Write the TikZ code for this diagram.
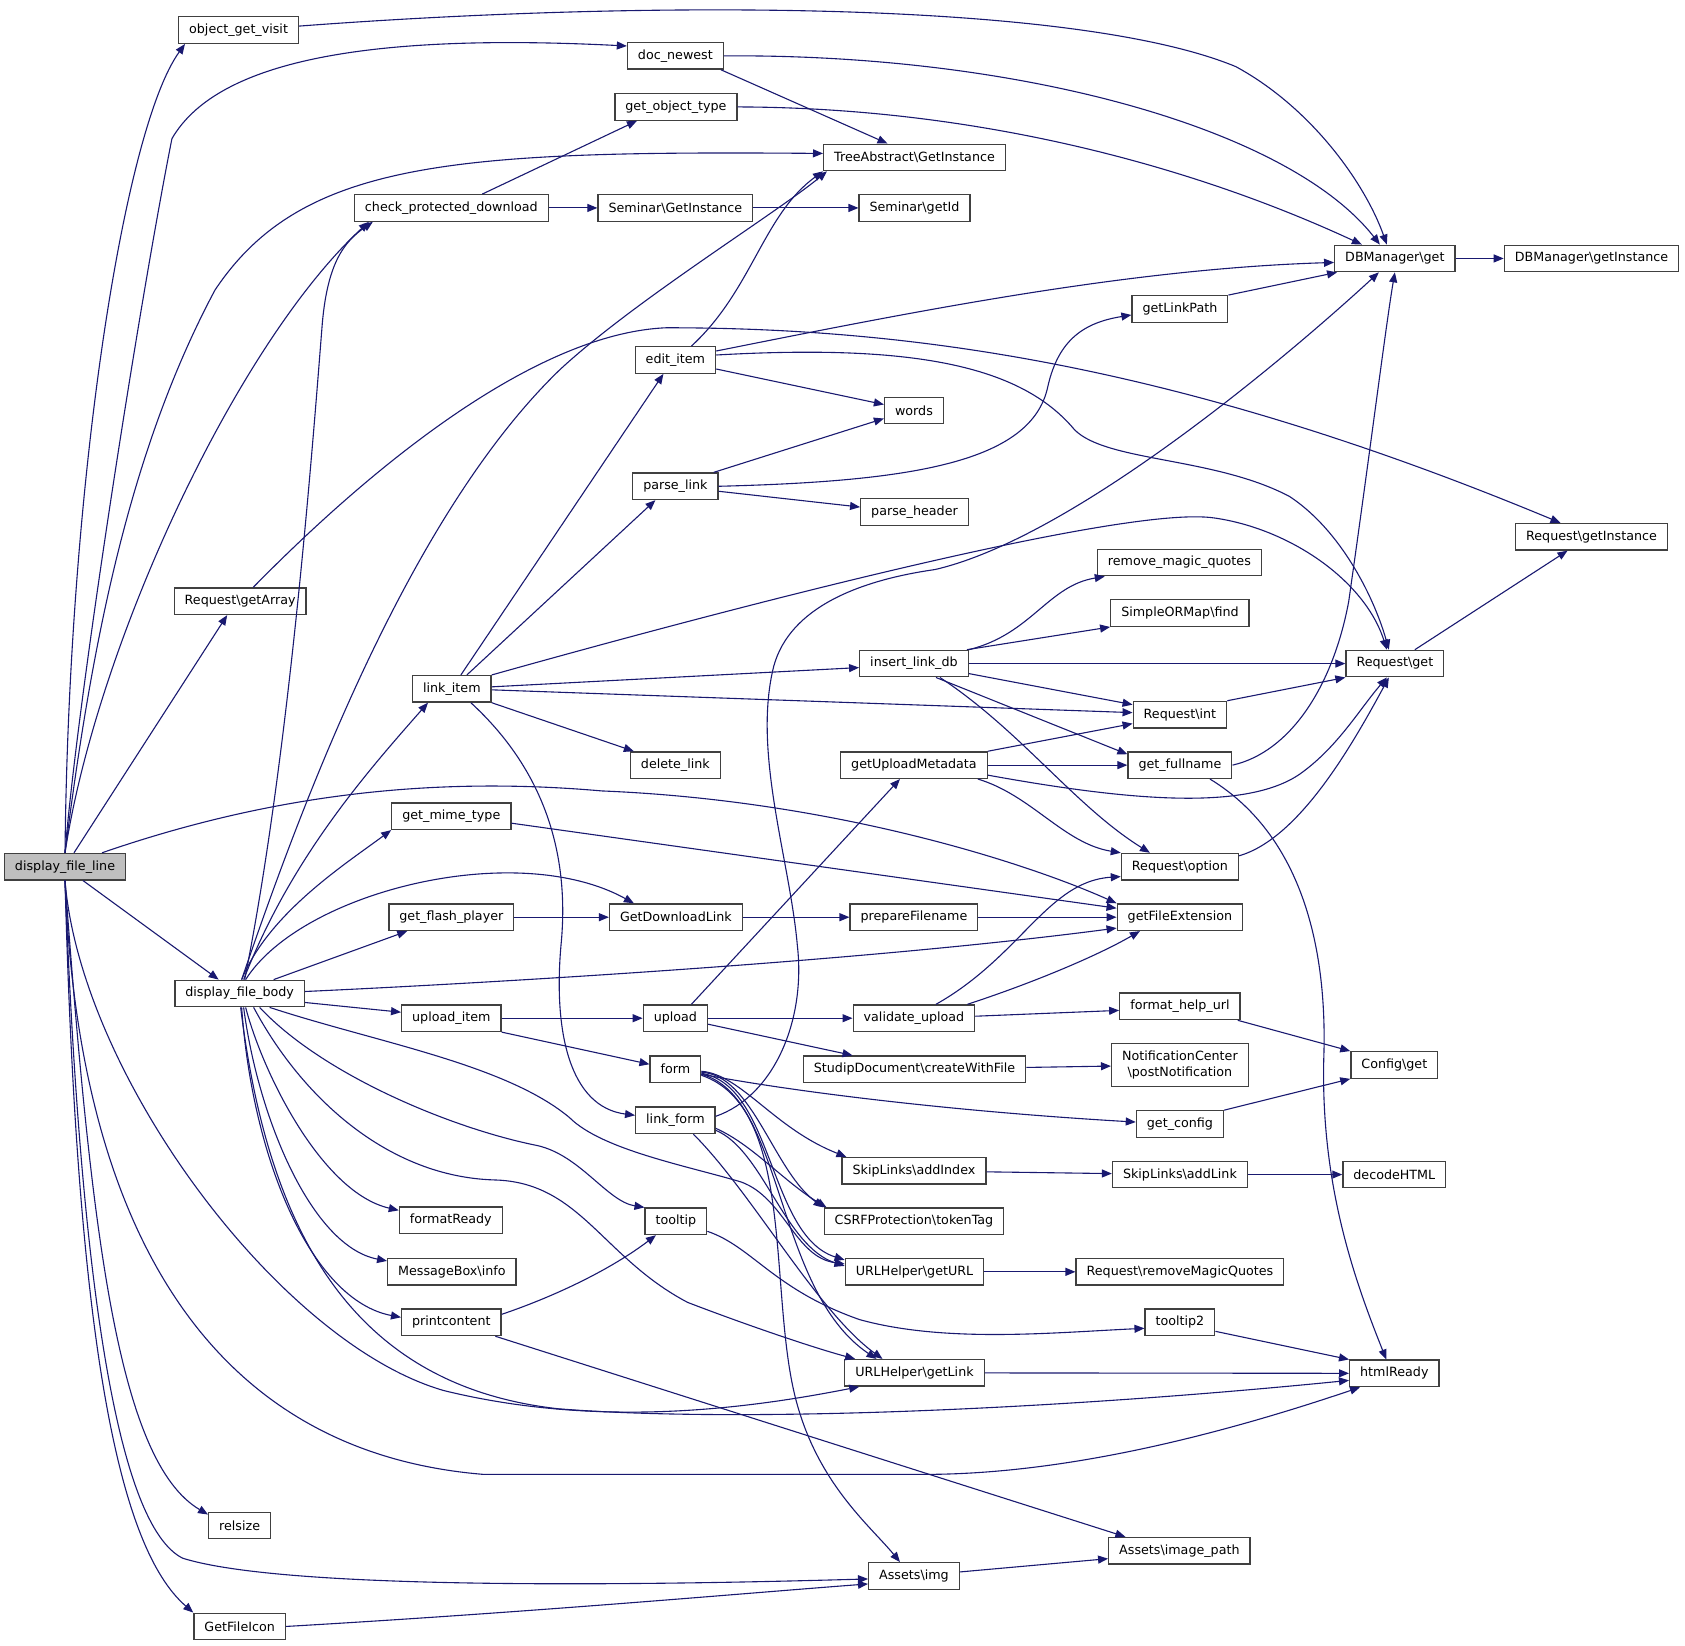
\documentclass[tikz,border=0pt]{standalone}
\usepackage{fontspec}
\setmainfont{DejaVu Sans}
\usetikzlibrary{arrows.meta}
\definecolor{edgeblue}{HTML}{191970}
\definecolor{boxgray}{HTML}{404040}
\definecolor{rootgray}{HTML}{BFBFBF}
\newcommand{\bsl}{\textbackslash}
\begin{document}
\begin{tikzpicture}[x=1.0746pt,y=-1.0746pt,
    link/.style={draw=edgeblue,line width=1.1pt,-{Triangle[length=10pt,width=8pt]}},
    fn/.style={rectangle,draw=boxgray,line width=1.3pt,fill=white,minimum height=26.5pt,
      inner xsep=10.5pt,inner ysep=1pt,font=\fontsize{12.7}{15.5}\selectfont}]
  \fill[white] (0,0) rectangle (1568,1531);
  \useasboundingbox (0,0) rectangle (1568,1531);
  \begin{scope}[every node/.style={fn}]
    \node (ogv) at (222,28) {object\_get\_visit};
    \node (dnew) at (628.5,52) {doc\_newest};
    \node (got) at (629,99.5) {get\_object\_type};
    \node (tai) at (851,146.5) {TreeAbstract\bsl GetInstance};
    \node (cpd) at (420,193.5) {check\_protected\_download};
    \node (sgi) at (628.5,193.5) {Seminar\bsl GetInstance};
    \node (sid) at (851,193.5) {Seminar\bsl getId};
    \node (dbg) at (1298,240.5) {DBManager\bsl get};
    \node (dbi) at (1481,240.5) {DBManager\bsl getInstance};
    \node (glp) at (1098,287.5) {getLinkPath};
    \node (edit) at (628.5,335) {edit\_item};
    \node (words) at (850.5,382) {words};
    \node (plink) at (628.5,452.5) {parse\_link};
    \node (phead) at (851,476.5) {parse\_header};
    \node (rgi) at (1481,499.5) {Request\bsl getInstance};
    \node (rmq) at (1097.5,523.5) {remove\_magic\_quotes};
    \node (somf) at (1098,570.5) {SimpleORMap\bsl find};
    \node (rga) at (223.5,559.5) {Request\bsl getArray};
    \node (ildb) at (850.5,617.5) {insert\_link\_db};
    \node (rget) at (1298,617.5) {Request\bsl get};
    \node (litem) at (420.5,641) {link\_item};
    \node (rint) at (1098,665) {Request\bsl int};
    \node (dlink) at (628.5,712) {delete\_link};
    \node (gum) at (850.5,712) {getUploadMetadata};
    \node (gfn) at (1098,712) {get\_fullname};
    \node (gmt) at (420,759.5) {get\_mime\_type};
    \node[fill=rootgray] (dfl) at (60.5,806.5) {display\_file\_line};
    \node (ropt) at (1098,806.5) {Request\bsl option};
    \node (gfp) at (420,853.5) {get\_flash\_player};
    \node (gdl) at (629,853.5) {GetDownloadLink};
    \node (pfn) at (850.5,853.5) {prepareFilename};
    \node (gfe) at (1098,853.5) {getFileExtension};
    \node (dfb) at (223,924.5) {display\_file\_body};
    \node (uitem) at (420,947.5) {upload\_item};
    \node (upl) at (628.5,947.5) {upload};
    \node (vup) at (850.5,947.5) {validate\_upload};
    \node (fhu) at (1098,936.5) {format\_help\_url};
    \node (sdoc) at (851,995) {StudipDocument\bsl createWithFile};
    \node[align=center,minimum height=43pt,font=\fontsize{12.7}{16}\selectfont] (ncpn) at (1098,991) {NotificationCenter\\\bsl postNotification};
    \node (cfg) at (1297.5,991) {Config\bsl get};
    \node (form) at (628.5,995) {form};
    \node (lform) at (628.5,1042.5) {link\_form};
    \node (gcfg) at (1098,1046) {get\_config};
    \node (sidx) at (850.5,1089.5) {SkipLinks\bsl addIndex};
    \node (slnk) at (1098,1093) {SkipLinks\bsl addLink};
    \node (dhtml) at (1297.5,1093) {decodeHTML};
    \node (fready) at (419.5,1135.5) {formatReady};
    \node (ttip) at (629,1136.5) {tooltip};
    \node (csrf) at (850.5,1136.5) {CSRFProtection\bsl tokenTag};
    \node (mbi) at (420.5,1183.5) {MessageBox\bsl info};
    \node (gurl) at (851,1183.5) {URLHelper\bsl getURL};
    \node (rrmq) at (1098,1183.5) {Request\bsl removeMagicQuotes};
    \node (pcont) at (420,1230.5) {printcontent};
    \node (ttip2) at (1098,1230.5) {tooltip2};
    \node (glink) at (851,1277.5) {URLHelper\bsl getLink};
    \node (hready) at (1297.5,1278) {htmlReady};
    \node (rsz) at (223,1419.5) {relsize};
    \node (aip) at (1097.5,1443) {Assets\bsl image\_path};
    \node (aimg) at (850.5,1466.5) {Assets\bsl img};
    \node (gfi) at (223,1513.5) {GetFileIcon};
  \end{scope}
  \begin{scope}[every edge/.style={link}]
    \draw[link] (dfl.north) .. controls (64,450) and (115,120) .. ([xshift=7pt]ogv.south west);
    \draw[link] (dfl.north) .. controls (72,650) and (130,280) .. (160,129) .. controls (200,60) and (330,30) .. ([yshift=-4pt]dnew.north west);
    \draw[link] (dfl.north) .. controls (85,600) and (120,420) .. (200,270) .. controls (280,150) and (420,140) .. ([yshift=4pt]tai.west);
    \draw[link] (dfl.north) .. controls (90,600) and (220,320) .. ([xshift=15pt]cpd.south west);
    \path ([xshift=9pt]dfl.north) edge ([xshift=-13pt]rga.south);
    \draw[link] ([xshift=37pt]dfl.north) .. controls (250,740) and (400,722) .. (560,736) .. controls (780,745) and (960,805) .. (gfe.north west);
    \path ([xshift=18pt]dfl.south) edge ([xshift=-21pt]dfb.north);
    \draw[link] (dfl.south) .. controls (75,1000) and (260,1250) .. (413,1294) .. controls (560,1330) and (700,1310) .. ([xshift=15pt]glink.south west);
    \draw[link] (dfl.south) .. controls (72,1120) and (180,1350) .. (450,1372) -- (860,1372) .. controls (1000,1372) and (1150,1330) .. ([xshift=11pt]hready.south west);
    \draw[link] (dfl.south) .. controls (85,1150) and (110,1360) .. ([yshift=-3pt]rsz.north west);
    \draw[link] (dfl.south) .. controls (75,1200) and (110,1420) .. (170,1450) .. controls (250,1475) and (500,1478) .. ([yshift=-3pt]aimg.west);
    \draw[link] (dfl.south) .. controls (72,1250) and (110,1440) .. (gfi.north west);
    \draw[link] ([xshift=5pt]dfb.north) .. controls (270,700) and (292,400) .. (300,300) .. controls (305,245) and (320,225) .. ([xshift=19pt]cpd.south west);
    \draw[link] ([xshift=2pt]dfb.north) .. controls (280,750) and (380,480) .. (521,344) .. controls (590,280) and (720,200) .. ([xshift=4pt]tai.south west);
    \draw[link] ([xshift=4pt]dfb.north) .. controls (270,800) and (340,720) .. ([xshift=16pt]litem.south west);
    \draw[link] ([xshift=2pt]dfb.north) .. controls (250,850) and (320,805) .. (gmt.south west);
    \draw[link] ([xshift=6pt]dfb.north) .. controls (280,830) and (480,780) .. ([xshift=25pt]gdl.north west);
    \path ([xshift=34pt]dfb.north) edge ([xshift=19pt]gfp.south west);
    \draw[link] ([yshift=2pt]dfb.east) .. controls (450,915) and (800,895) .. ([yshift=3pt]gfe.south west);
    \path ([yshift=-9pt]dfb.east) edge ([yshift=6pt]uitem.west);
    \draw[link] ([xshift=20pt]dfb.south) .. controls (300,1000) and (420,1050) .. (500,1066) .. controls (540,1075) and (565,1118) .. (ttip.north west);
    \draw[link] ([xshift=30pt]dfb.south) .. controls (350,970) and (470,990) .. (530,1040) .. controls (560,1070) and (640,1085) .. (690,1100) .. controls (730,1115) and (740,1170) .. ([yshift=-6pt]gurl.north west);
    \draw[link] ([xshift=14pt]dfb.south) .. controls (280,1020) and (360,1095) .. (460,1098) .. controls (540,1100) and (560,1170) .. (640,1212) .. controls (700,1235) and (760,1255) .. ([xshift=11pt]glink.north west);
    \draw[link] ([xshift=6pt]dfb.south) .. controls (245,1000) and (300,1110) .. ([yshift=-4pt]fready.north west);
    \draw[link] ([xshift=4pt]dfb.south) .. controls (240,1040) and (290,1160) .. ([yshift=-3pt]mbi.north west);
    \draw[link] ([xshift=2pt]dfb.south) .. controls (235,1080) and (290,1210) .. ([yshift=5pt]pcont.west);
    \draw[link] ([xshift=1pt]dfb.south) .. controls (250,1150) and (330,1290) .. (520,1311) .. controls (700,1325) and (1000,1310) .. ([yshift=-7pt]hready.west);
    \draw[link] ([yshift=4pt]ogv.east) .. controls (600,0) and (1000,0) .. (1150,62) .. controls (1220,100) and (1270,170) .. ([xshift=-8pt]dbg.north);
    \draw[link] (dnew.east) .. controls (950,50) and (1200,120) .. ([xshift=-15pt]dbg.north);
    \path ([xshift=-3pt]dnew.south east) edge ([xshift=-27pt]tai.north);
    \draw[link] (got.east) .. controls (900,100) and (1100,150) .. ([xshift=-33pt]dbg.north);
    \path ([xshift=31pt]cpd.north) edge ([xshift=-39pt]got.south);
    \path (cpd) edge (sgi);
    \path (sgi) edge (sid);
    \path (dbg) edge (dbi);
    \path (glp.north east) edge ([xshift=3pt]dbg.south west);
    \draw[link] ([xshift=16pt]edit.north) .. controls (700,270) and (710,200) .. (tai.south west);
    \draw[link] ([yshift=9pt]edit.east) .. controls (850,290) and (1050,250) .. ([yshift=-4pt]dbg.west);
    \path ([yshift=-9pt]edit.east) edge ([yshift=6pt]words.west);
    \draw[link] ([yshift=5pt]edit.east) .. controls (850,320) and (950,340) .. (1000,400) .. controls (1030,430) and (1130,425) .. (1200,462) .. controls (1250,495) and (1280,560) .. ([xshift=-6pt]rget.north);
    \path ([xshift=-5pt]plink.north east) edge ([yshift=-8pt]words.west);
    \draw[link] (plink.east) .. controls (850,448) and (960,430) .. (975,360) .. controls (985,315) and (1010,300) .. ([yshift=-6pt]glp.west);
    \path ([yshift=-5pt]plink.east) edge ([yshift=5pt]phead.west);
    \draw[link] ([xshift=13pt]rga.north) .. controls (350,430) and (500,310) .. (620,305) .. controls (850,305) and (1100,340) .. ([xshift=-31pt]rgi.north);
    \draw[link] (ildb.north east) .. controls (960,590) and (975,545) .. ([xshift=8pt]rmq.south west);
    \path ([xshift=-2pt]ildb.north east) edge (somf.south west);
    \path (ildb) edge (rget);
    \path ([yshift=-10pt]ildb.east) edge ([yshift=10pt]rint.west);
    \path ([xshift=22pt]ildb.south) edge ([yshift=-3pt]gfn.north west);
    \draw[link] ([xshift=26pt]ildb.south) .. controls (950,680) and (1000,750) .. ([xshift=-30pt]ropt.north);
    \path ([xshift=9pt]litem.north) edge ([xshift=-12pt]edit.south);
    \path ([xshift=15pt]litem.north) edge ([xshift=-20pt]plink.south);
    \draw[link] (litem.north east) .. controls (700,560) and (1050,470) .. (1130,482) .. controls (1200,492) and (1270,540) .. ([xshift=-8pt]rget.north);
    \path ([yshift=2pt]litem.east) edge ([yshift=-4pt]ildb.west);
    \path ([yshift=-1pt]litem.east) edge ([yshift=2pt]rint.west);
    \path (litem.south east) edge ([xshift=4pt]dlink.north west);
    \draw[link] ([xshift=19pt]litem.south) .. controls (510,720) and (530,800) .. (522,880) .. controls (515,960) and (530,1030) .. ([yshift=5pt]lform.west);
    \path (rint.north east) edge (rget.south west);
    \path ([xshift=20pt]rget.north) edge ([xshift=-24pt]rgi.south);
    \path (gum.north east) edge ([yshift=-9pt]rint.west);
    \path (gum) edge (gfn);
    \draw[link] ([yshift=-10pt]gum.east) .. controls (1050,745) and (1160,755) .. (1210,720) .. controls (1245,695) and (1265,660) .. ([xshift=-8pt]rget.south);
    \draw[link] ([xshift=-10pt]gum.south east) .. controls (960,740) and (990,785) .. (ropt.north west);
    \draw[link] (gfn.east) .. controls (1200,700) and (1240,640) .. (1255,560) .. controls (1275,420) and (1290,300) .. (dbg.south);
    \draw[link] ([xshift=30pt]gfn.south) .. controls (1200,770) and (1235,860) .. (1232,980) .. controls (1228,1100) and (1260,1190) .. ([xshift=-8pt]hready.north);
    \path ([yshift=-7pt]gmt.east) edge ([yshift=9pt]gfe.west);
    \draw[link] ([yshift=-3pt]ropt.north east) .. controls (1210,780) and (1260,690) .. ([xshift=-6pt]rget.south);
    \path (gfp) edge (gdl);
    \path (gdl) edge (pfn);
    \path (pfn) edge (gfe);
    \path (uitem) edge (upl);
    \path (uitem.south east) edge ([yshift=5pt]form.west);
    \path ([xshift=16pt]upl.north) edge ([xshift=-14pt]gum.south);
    \path (upl) edge (vup);
    \path ([yshift=-6pt]upl.east) edge ([xshift=-62pt]sdoc.north);
    \draw[link] ([xshift=22pt]vup.north) .. controls (950,890) and (975,820) .. ([yshift=4pt]ropt.south west);
    \draw[link] ([xshift=-8pt]vup.north east) .. controls (960,915) and (1020,890) .. ([xshift=-40pt]gfe.south);
    \path ([yshift=2pt]vup.east) edge ([yshift=-4pt]fhu.west);
    \path ([xshift=-3pt]fhu.south east) edge (cfg.north west);
    \path (sdoc) edge (ncpn);
    \draw[link] ([yshift=-5pt]form.east) .. controls (750,1018) and (900,1035) .. ([yshift=2pt]gcfg.west);
    \draw[link] ([yshift=-2pt]form.east) .. controls (690,1000) and (720,1050) .. ([xshift=5pt]sidx.north west);
    \draw[link] ([yshift=-3pt]form.east) .. controls (700,1000) and (720,1090) .. (csrf.north west);
    \draw[link] ([yshift=-4pt]form.east) .. controls (720,1010) and (715,1150) .. ([yshift=-2pt]gurl.north west);
    \draw[link] ([yshift=-5pt]form.east) .. controls (730,1020) and (720,1200) .. ([xshift=-38pt]glink.north);
    \draw[link] ([yshift=-6pt]form.east) .. controls (740,1030) and (715,1200) .. (740,1300) .. controls (760,1380) and (810,1420) .. ([xshift=-14pt]aimg.north);
    \draw[link] ([yshift=4pt]lform.east) .. controls (720,1020) and (750,950) .. (742,880) .. controls (735,800) and (700,700) .. (720,620) .. controls (735,565) and (800,540) .. (870,530) .. controls (1000,500) and (1200,330) .. ([xshift=-16pt]dbg.south);
    \draw[link] ([yshift=-8pt]lform.east) .. controls (700,1065) and (730,1100) .. ([xshift=3pt]csrf.north west);
    \draw[link] ([yshift=-10pt]lform.east) .. controls (710,1070) and (730,1160) .. ([yshift=-8pt]gurl.north west);
    \draw[link] ([xshift=18pt]lform.south) .. controls (700,1110) and (760,1220) .. ([xshift=-32pt]glink.north);
    \path (gcfg.north east) edge (cfg.south west);
    \path (sidx) edge (slnk);
    \path (slnk) edge (dhtml);
    \draw[link] ([yshift=-10pt]ttip.east) .. controls (700,1160) and (720,1200) .. (800,1228) .. controls (880,1250) and (980,1240) .. ([yshift=-6pt]ttip2.west);
    \path (gurl) edge (rrmq);
    \draw[link] ([yshift=8pt]pcont.east) .. controls (520,1205) and (570,1180) .. ([xshift=-20pt]ttip.south);
    \path ([xshift=44pt]pcont.south) edge ([xshift=-54pt]aip.north);
    \path ([yshift=-9pt]ttip2.east) edge (hready.north west);
    \path (glink) edge (hready);
    \path ([yshift=4pt]aimg.east) edge ([yshift=-8pt]aip.west);
    \draw[link] (gfi.east) .. controls (500,1500) and (700,1482) .. ([yshift=-8pt]aimg.west);
  \end{scope}
\end{tikzpicture}
\end{document}
